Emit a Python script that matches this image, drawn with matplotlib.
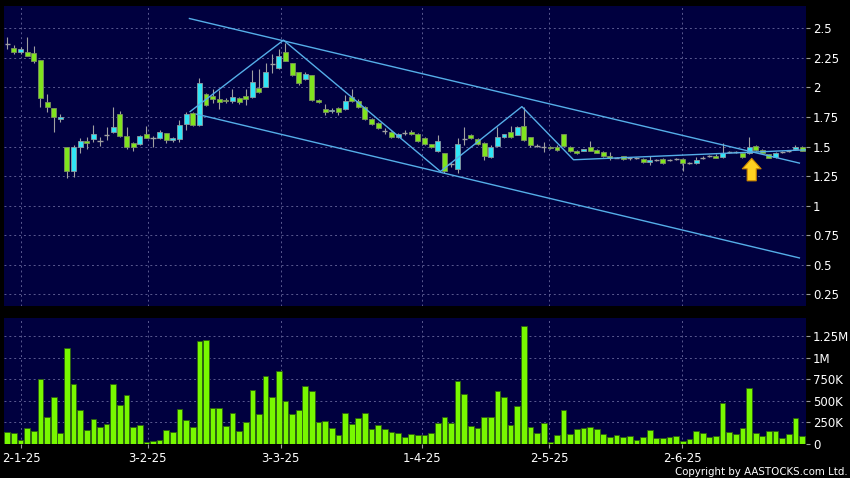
import numpy as np
import matplotlib
matplotlib.use("Agg")
import matplotlib.pyplot as plt

# daily OHLC, one bar per trading day (30-12-24 .. end of June 25)
opens = [2.37, 2.337, 2.297, 2.297, 2.289, 2.232, 1.875, 1.824, 1.731, 1.494,
         1.289, 1.494, 1.545, 1.562, 1.551, 1.601, 1.627, 1.773, 1.593, 1.528,
         1.52, 1.604, 1.57, 1.57, 1.613, 1.556, 1.562, 1.689, 1.782, 1.683,
         1.945, 1.928, 1.903, 1.895, 1.886, 1.908, 1.925, 1.922, 1.993, 2.007,
         2.196, 2.162, 2.297, 2.204, 2.128, 2.069, 2.106, 1.894, 1.816, 1.8,
         1.824, 1.816, 1.922, 1.886, 1.833, 1.731, 1.703, 1.635, 1.622, 1.579,
         1.618, 1.627, 1.605, 1.571, 1.52, 1.464, 1.444, 1.35, 1.309, 1.567,
         1.599, 1.562, 1.529, 1.41, 1.508, 1.579, 1.627, 1.599, 1.677, 1.579,
         1.508, 1.5, 1.495, 1.5, 1.605, 1.5, 1.466, 1.464, 1.492, 1.472,
         1.453, 1.421, 1.407, 1.416, 1.399, 1.402, 1.394, 1.372, 1.389, 1.391,
         1.389, 1.394, 1.394, 1.36, 1.36, 1.402, 1.416, 1.421, 1.41, 1.453,
         1.453, 1.449, 1.444, 1.508, 1.472, 1.436, 1.41, 1.453, 1.464, 1.478,
         1.5]
highs = [2.43, 2.359, 2.34, 2.424, 2.35, 2.232, 1.942, 1.824, 1.776, 1.494,
         1.514, 1.573, 1.579, 1.683, 1.579, 1.669, 1.832, 1.801, 1.663, 1.542,
         1.601, 1.675, 1.59, 1.641, 1.613, 1.584, 1.725, 1.796, 1.796, 2.077,
         1.956, 1.985, 1.979, 1.91, 1.99, 1.92, 1.985, 2.149, 2.155, 2.204,
         2.28, 2.325, 2.378, 2.204, 2.133, 2.13, 2.106, 1.9, 1.858, 1.83,
         1.835, 1.937, 1.985, 1.9, 1.84, 1.74, 1.71, 1.66, 1.63, 1.615,
         1.64, 1.64, 1.615, 1.58, 1.525, 1.6, 1.444, 1.37, 1.57, 1.669,
         1.61, 1.57, 1.535, 1.51, 1.669, 1.61, 1.675, 1.67, 1.833, 1.585,
         1.52, 1.542, 1.505, 1.51, 1.61, 1.505, 1.47, 1.482, 1.548, 1.48,
         1.46, 1.45, 1.415, 1.42, 1.41, 1.41, 1.4, 1.42, 1.395, 1.4,
         1.395, 1.4, 1.4, 1.365, 1.41, 1.42, 1.43, 1.44, 1.529, 1.46,
         1.465, 1.455, 1.579, 1.515, 1.48, 1.44, 1.455, 1.46, 1.47, 1.515,
         1.505]
lows = [2.33, 2.283, 2.28, 2.266, 2.21, 1.832, 1.796, 1.627, 1.71, 1.232,
        1.246, 1.449, 1.477, 1.542, 1.506, 1.556, 1.613, 1.579, 1.477, 1.466,
        1.511, 1.57, 1.5, 1.562, 1.528, 1.535, 1.542, 1.642, 1.675, 1.675,
        1.843, 1.872, 1.816, 1.87, 1.87, 1.86, 1.852, 1.915, 1.956, 2.007,
        2.12, 2.155, 2.226, 2.1, 2.021, 2.06, 1.885, 1.87, 1.768, 1.785,
        1.77, 1.81, 1.88, 1.825, 1.725, 1.68, 1.645, 1.61, 1.57, 1.57,
        1.6, 1.6, 1.54, 1.515, 1.49, 1.455, 1.28, 1.33, 1.28, 1.514,
        1.565, 1.515, 1.388, 1.4, 1.5, 1.575, 1.575, 1.595, 1.55, 1.5,
        1.5, 1.453, 1.48, 1.46, 1.5, 1.455, 1.44, 1.46, 1.46, 1.445,
        1.41, 1.39, 1.4, 1.39, 1.39, 1.395, 1.36, 1.345, 1.38, 1.355,
        1.38, 1.385, 1.297, 1.355, 1.35, 1.395, 1.41, 1.4, 1.405, 1.445,
        1.445, 1.405, 1.44, 1.465, 1.445, 1.4, 1.405, 1.445, 1.455, 1.475,
        1.46]
closes = [2.37, 2.297, 2.323, 2.269, 2.227, 1.908, 1.838, 1.748, 1.748, 1.297,
          1.494, 1.545, 1.528, 1.604, 1.551, 1.601, 1.663, 1.59, 1.494, 1.5,
          1.593, 1.576, 1.57, 1.627, 1.556, 1.57, 1.68, 1.773, 1.683, 2.035,
          1.852, 1.9, 1.88, 1.885, 1.922, 1.88, 1.905, 2.044, 1.965, 2.128,
          2.196, 2.266, 2.226, 2.106, 2.035, 2.111, 1.894, 1.878, 1.796, 1.81,
          1.793, 1.886, 1.886, 1.833, 1.731, 1.689, 1.655, 1.635, 1.579, 1.605,
          1.618, 1.607, 1.551, 1.523, 1.495, 1.548, 1.297, 1.35, 1.52, 1.567,
          1.571, 1.523, 1.416, 1.5, 1.579, 1.605, 1.579, 1.664, 1.557, 1.514,
          1.508, 1.5, 1.49, 1.472, 1.506, 1.464, 1.444, 1.478, 1.466, 1.449,
          1.416, 1.402, 1.407, 1.396, 1.399, 1.402, 1.368, 1.389, 1.389, 1.36,
          1.389, 1.394, 1.36, 1.36, 1.389, 1.402, 1.416, 1.404, 1.444, 1.453,
          1.453, 1.41, 1.5, 1.472, 1.449, 1.407, 1.449, 1.453, 1.464, 1.5,
          1.466]
volumes_k = [143, 132, 50, 190, 155, 756, 318, 550, 124, 1108,
             690, 395, 163, 287, 202, 229, 690, 457, 562, 202,
             217, 27, 35, 50, 167, 143, 407, 283, 198, 1194,
             1202, 422, 422, 205, 364, 147, 260, 628, 353, 783,
             539, 841, 500, 345, 395, 667, 612, 256, 267, 186,
             101, 357, 229, 298, 364, 171, 217, 178, 140, 132,
             81, 116, 109, 109, 128, 248, 318, 240, 733, 581,
             213, 186, 310, 318, 609, 543, 217, 446, 1372, 194,
             132, 248, 23, 109, 399, 120, 178, 182, 202, 178,
             120, 81, 101, 85, 97, 50, 85, 163, 74, 70,
             81, 89, 35, 58, 147, 128, 78, 97, 473, 140,
             116, 190, 651, 132, 97, 147, 147, 66, 116, 298,
             93]

date_labels = ["2-1-25", "3-2-25", "3-3-25", "1-4-25", "2-5-25", "2-6-25"]
date_pos = [2.1, 21.2, 41.3, 62.6, 81.8, 101.9]

price_ticks = [2.5, 2.25, 2, 1.75, 1.5, 1.25, 1, 0.75, 0.5, 0.25]
price_labels = ["2.5", "2.25", "2", "1.75", "1.5", "1.25", "1", "0.75", "0.5", "0.25"]
vol_ticks = [0, 250e3, 500e3, 750e3, 1e6, 1.25e6]
vol_labels = ["0", "250K", "500K", "750K", "1M", "1.25M"]

# hand drawn lines: (bar index, price)
channel_top = [(27.5, 2.584), (119.6, 1.36)]
channel_bottom = [(28.6, 1.774), (119.6, 0.557)]
zigzag = [(27.6, 1.796), (41.7, 2.401), (65.4, 1.289), (77.7, 1.838),
          (85.5, 1.388), (120.5, 1.472)]
arrow_at = (112.4, 1.40)

bg = "#00003f"
grid_c = "#5a5a90"
green = "#80e41e"
cyan = "#30e6f6"
line_c = "#55aee8"

o = np.array(opens); h = np.array(highs); l = np.array(lows); c = np.array(closes)
x = np.arange(len(o))

fig = plt.figure(figsize=(8.5, 4.78), dpi=100, facecolor="black")
ax1 = fig.add_axes([4/850, 172/478, 802/850, 300/478], facecolor=bg)
ax2 = fig.add_axes([4/850, 34/478, 802/850, 126/478], facecolor=bg)

for ax in (ax1, ax2):
    ax.set_xlim(-0.5, 120.6)
    for s in ax.spines.values():
        s.set_visible(False)
    ax.yaxis.tick_right()
    ax.tick_params(axis="y", colors="#9a9a9a", labelcolor="white", length=3, pad=2, labelsize=8.5)
    ax.tick_params(axis="x", colors="#9a9a9a", labelcolor="white", length=3, pad=3, labelsize=8.5)
    ax.set_xticks(date_pos)
    ax.grid(True, color=grid_c, linestyle=(0, (2, 3)), linewidth=0.7)
    ax.set_axisbelow(True)

# price panel
ax1.set_ylim(0.15, 2.69)
ax1.set_yticks(price_ticks)
ax1.set_yticklabels(price_labels)
ax1.set_xticklabels([])
ax1.tick_params(axis="x", length=0)

up = c > o
down = c < o
flat = c == o
ax1.vlines(x, l, h, color="#a0a0a0", linewidth=0.8, zorder=2)
ax1.bar(x[up], (c - o)[up], bottom=o[up], width=0.75, color=cyan,
        edgecolor="#8c9aa0", linewidth=0.6, zorder=3)
ax1.bar(x[down], (o - c)[down], bottom=c[down], width=0.75, color=green,
        edgecolor="#7a9060", linewidth=0.6, zorder=3)
ax1.hlines(c[flat], x[flat] - 0.4, x[flat] + 0.4, color="#a0a0a0", linewidth=1.0, zorder=3)

for pts in (channel_top, channel_bottom, zigzag):
    xs, ys = zip(*pts)
    ax1.plot(xs, ys, color=line_c, linewidth=1.0, zorder=4)

ax1.annotate("", xy=arrow_at, xytext=(arrow_at[0], arrow_at[1] - 0.19),
             arrowprops=dict(arrowstyle="simple,head_width=1.35,head_length=0.75,tail_width=0.65",
                             fc="#ffd020", ec="#d08a00", lw=0.8, shrinkA=0, shrinkB=0),
             zorder=5)

# volume panel
vol = np.array(volumes_k) * 1000
ax2.set_ylim(0, 1.46e6)
ax2.set_yticks(vol_ticks)
ax2.set_yticklabels(vol_labels)
ax2.bar(x, vol, width=0.86, color="#78f800", edgecolor="#2c6010", linewidth=0.6, zorder=3)
ax2.set_xticklabels(date_labels)

fig.text(0.997, 0.002, "Copyright by AASTOCKS.com Ltd.", color="white",
         fontsize=7.4, ha="right", va="bottom")

fig.savefig("out.png", dpi=100, facecolor="black")
